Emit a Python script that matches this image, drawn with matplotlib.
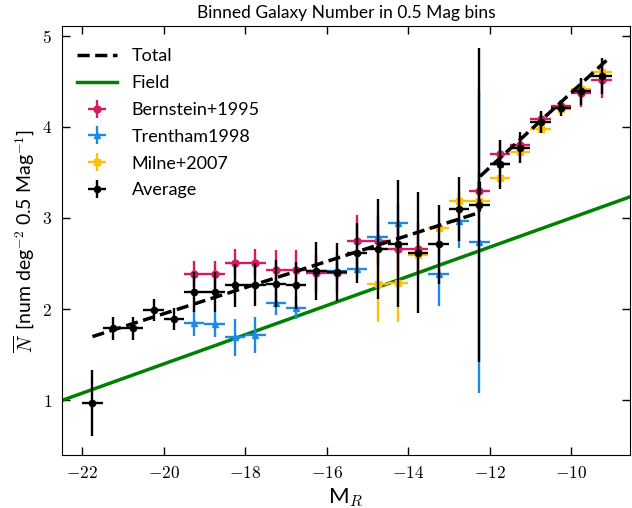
import matplotlib
matplotlib.use("Agg")
import matplotlib.pyplot as plt
from matplotlib.ticker import FuncFormatter, MultipleLocator

plt.rcParams["font.family"] = ["Lato", "DejaVu Sans"]
plt.rcParams["mathtext.fontset"] = "cm"

# Average of all surveys, 0.5 mag bins
avg_mag = [-21.75, -21.25, -20.75, -20.25, -19.75, -19.25, -18.75, -18.25, -17.75,
           -17.25, -16.75, -16.25, -15.75, -15.25, -14.75, -14.25, -13.75, -13.25,
           -12.75, -12.25, -11.75, -11.25, -10.75, -10.25, -9.75, -9.25]
avg_n = [0.97, 1.79, 1.79, 1.99, 1.89, 2.19, 2.19, 2.26, 2.27, 2.28, 2.26, 2.42, 2.41,
         2.62, 2.66, 2.72, 2.62, 2.71, 3.095, 3.14, 3.59, 3.77, 4.05, 4.205, 4.39, 4.555]
avg_err = [0.36, 0.13, 0.13, 0.12, 0.12, 0.22, 0.22, 0.24, 0.24, 0.26, 0.26, 0.32, 0.32,
           0.33, 0.55, 0.70, 0.66, 0.43, 0.35, 1.72, 0.27, 0.17, 0.12, 0.09, 0.15, 0.20]

bern_mag = [-19.25, -18.75, -18.25, -17.75, -17.25, -16.75, -16.25, -15.75, -15.25,
            -14.75, -14.25, -13.75, -12.25, -11.75, -11.25, -10.75, -10.25, -9.75, -9.25]
bern_n = [2.385, 2.385, 2.51, 2.51, 2.43, 2.43, 2.40, 2.40, 2.75, 2.75, 2.66, 2.66,
          3.30, 3.70, 3.80, 4.09, 4.23, 4.37, 4.51]
bern_err = [0.14, 0.14, 0.15, 0.15, 0.22, 0.22, 0.20, 0.20, 0.28, 0.28, 0.30, 0.30,
            0.20, 0.15, 0.10, 0.07, 0.06, 0.15, 0.19]

tren_mag = [-19.25, -18.75, -18.25, -17.75, -17.25, -16.75, -16.25, -15.75, -15.25,
            -14.75, -14.25, -13.25, -12.75, -12.25, -11.75]
tren_n = [1.85, 1.835, 1.69, 1.72, 2.07, 2.01, 2.42, 2.42, 2.44, 2.79, 2.95, 2.39,
          2.97, 2.74, 3.59]
tren_err = [0.14, 0.14, 0.20, 0.20, 0.13, 0.12, 0.10, 0.10, 0.11, 0.15, 0.20, 0.36,
            0.30, 1.66, 0.10]

milne_mag = [-14.75, -14.25, -13.75, -13.25, -12.75, -12.25, -11.75, -11.25, -10.75,
             -10.25, -9.75, -9.25]
milne_n = [2.28, 2.29, 2.59, 2.89, 3.19, 3.19, 3.44, 3.72, 3.98, 4.19, 4.41, 4.60]
milne_err = [0.42, 0.43, 0.05, 0.10, 0.10, 0.10, 0.10, 0.05, 0.05, 0.05, 0.08, 0.10]

bin_half = 0.25

total_mag = [-21.75, -12.25, -12.25, -9.1]
total_n = [1.70, 3.06, 3.45, 4.74]

field_mag = [-22.5, -8.5]
field_n = [1.0, 3.24]

fig = plt.figure(figsize=(6.32, 5.08), dpi=100)
ax = fig.add_axes([0.098, 0.104, 0.899, 0.844])

ax.plot(field_mag, field_n, color="green", lw=2.5, label="Field", zorder=2)
ax.plot(total_mag, total_n, color="black", lw=2.5, ls=(0, (3.5, 1.6)), label="Total", zorder=4)

eb = dict(xerr=bin_half, ls="none", elinewidth=1.7, capsize=0)
ax.errorbar(bern_mag, bern_n, yerr=bern_err, color="#D81B60", marker="o", ms=5,
            label="Bernstein+1995", zorder=3, **eb)
ax.errorbar(tren_mag, tren_n, yerr=tren_err, color="#1E88E5", marker="^", ms=5,
            label="Trentham1998", zorder=3, **eb)
ax.errorbar(milne_mag, milne_n, yerr=milne_err, color="#FFC107", marker="s", ms=5,
            label="Milne+2007", zorder=3, **eb)
ax.errorbar(avg_mag, avg_n, yerr=avg_err, color="black", marker="o", ms=4.5,
            label="Average", zorder=5, **eb)

ax.set_xlim(-22.5, -8.55)
ax.set_ylim(0.4, 5.1)
ax.xaxis.set_major_locator(MultipleLocator(2))
ax.yaxis.set_major_locator(MultipleLocator(1))
ax.xaxis.set_major_formatter(FuncFormatter(lambda v, p: f"${v:.0f}$"))
ax.yaxis.set_major_formatter(FuncFormatter(lambda v, p: f"${v:.0f}$"))
ax.tick_params(direction="in", top=True, right=True, length=6, width=1, labelsize=12.5, pad=7)

ax.set_xlabel(r"M$_R$", fontsize=16)
ax.set_ylabel(r"$\overline{N}$ $\,$[num deg$^{-2}$ 0.5 Mag$^{-1}$]", fontsize=14)
ax.set_title("Binned Galaxy Number in 0.5 Mag bins", fontsize=12.5, pad=6)

handles, labels = ax.get_legend_handles_labels()
order = [labels.index(n) for n in ["Total", "Field", "Bernstein+1995", "Trentham1998", "Milne+2007", "Average"]]
ax.legend([handles[i] for i in order], [labels[i] for i in order], loc="upper left",
          bbox_to_anchor=(0.0, 0.985), frameon=False, fontsize=13, handlelength=2.2,
          labelspacing=0.6, borderaxespad=0.45)

fig.savefig("out.png", dpi=100)
